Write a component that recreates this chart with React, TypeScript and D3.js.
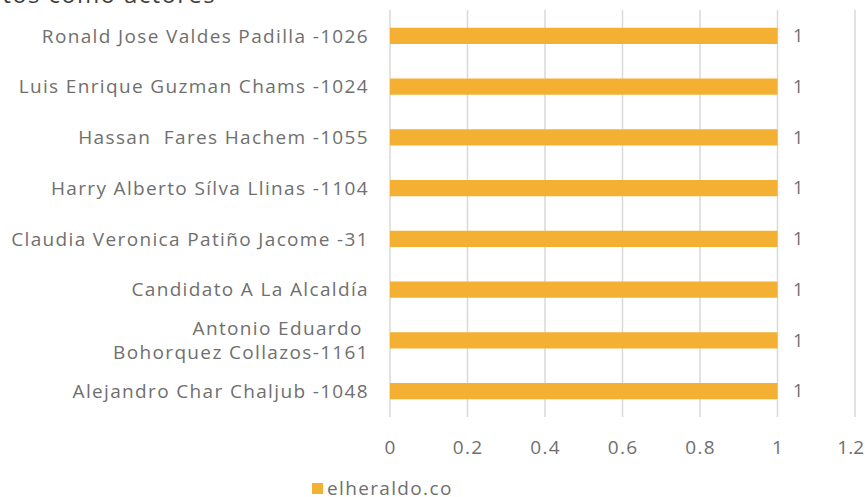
import React from "react";
import * as d3 from "d3";

const categories = [
  "Ronald Jose Valdes Padilla -1026",
  "Luis Enrique Guzman Chams -1024",
  "Hassan  Fares Hachem -1055",
  "Harry Alberto Sílva Llinas -1104",
  "Claudia Veronica Patiño Jacome -31",
  "Candidato A La Alcaldía",
  "Antonio Eduardo \nBohorquez Collazos-1161",
  "Alejandro Char Chaljub -1048",
];
const values = [1, 1, 1, 1, 1, 1, 1, 1];
const xTicks = [0, 0.2, 0.4, 0.6, 0.8, 1, 1.2];
const seriesName = "elheraldo.co";
const title = "Candidatos como actores";

const W = 865;
const H = 497;
const FONT = "'Open Sans', sans-serif";
const BAR = "#f4b032";
const LABEL = "#6f6f6f";
const SPACING = 1.35;

export default function App() {
  const x = d3.scaleLinear().domain([0, 1.2]).range([390, 855]);
  const y = d3.scaleBand().domain(categories).range([10.5, 416.5]).paddingInner(0.68).paddingOuter(0.34);
  const fmt = (v: number) => (v === 0 || v === 1 ? String(v) : d3.format(".1f")(v));

  return (
    <svg width={W} height={H} style={{ position: "absolute", left: 0, top: 0, background: "#fff" }}>
      <text x={216} y={3} textAnchor="end" fontFamily={FONT} fontSize={24} fill="#404040" letterSpacing={SPACING}>
        {title}
      </text>
      {xTicks.map((t) => (
        <line key={t} x1={x(t)} x2={x(t)} y1={10} y2={417} stroke="#d9d9d9" strokeWidth={1.5} />
      ))}
      {categories.map((c, i) => {
        const yy = y(c)!;
        const bh = y.bandwidth();
        const lines = c.split("\n");
        const cy = yy + bh / 2;
        return (
          <g key={c}>
            <rect x={x(0)} y={yy} width={x(values[i]) - x(0)} height={bh} fill={BAR} />
            <text x={793} y={cy} dy="0.35em" fontFamily={FONT} fontSize={18} fill={LABEL}>
              {values[i]}
            </text>
            {lines.map((ln, k) => (
              <text
                key={k}
                x={369}
                y={cy + (k - (lines.length - 1) / 2) * 24}
                dy="0.35em"
                textAnchor="end"
                fontFamily={FONT}
                fontSize={19}
                letterSpacing={SPACING}
                fill={LABEL}
                style={{ whiteSpace: "pre" }}
              >
                {ln}
              </text>
            ))}
          </g>
        );
      })}
      {xTicks.map((t) => {
        // keep the last tick label inside the svg edge
        const atEdge = x(t) + 14 > W;
        return (
          <text
            key={t}
            x={atEdge ? W - 1 : x(t) + SPACING / 2}
            y={447}
            dy="0.35em"
            textAnchor={atEdge ? "end" : "middle"}
            fontFamily={FONT}
            fontSize={19}
            letterSpacing={atEdge ? 0 : SPACING}
            fill={LABEL}
          >
            {fmt(t)}
          </text>
        );
      })}
      <rect x={312} y={483} width={11} height={11} fill={BAR} />
      <text x={327} y={488} dy="0.35em" fontFamily={FONT} fontSize={19} letterSpacing={SPACING} fill={LABEL}>
        {seriesName}
      </text>
    </svg>
  );
}
